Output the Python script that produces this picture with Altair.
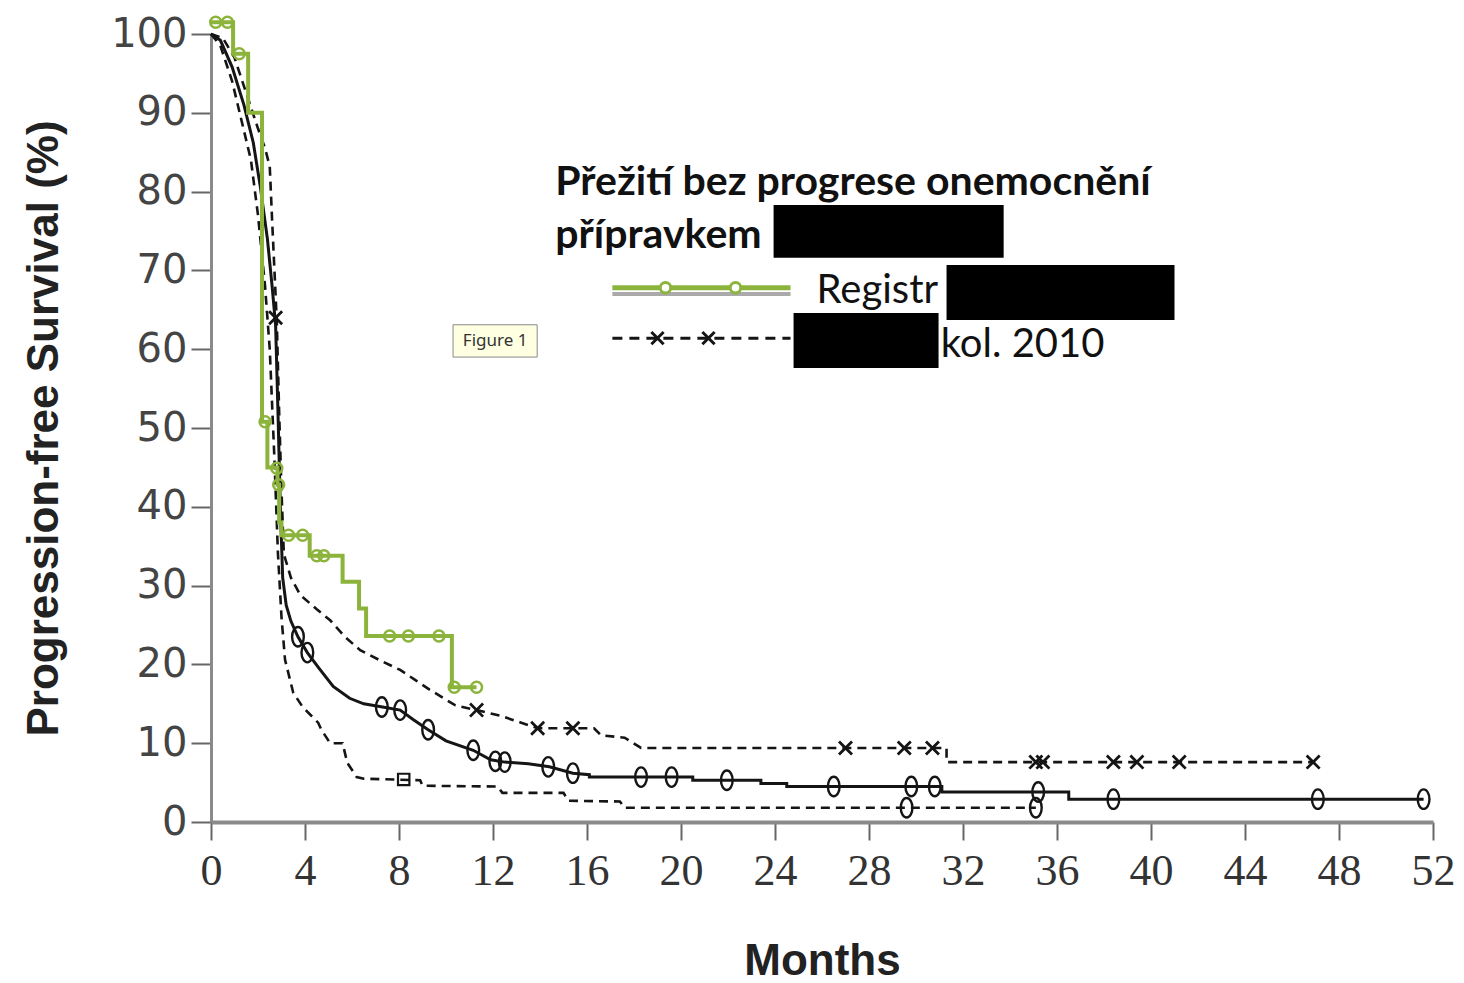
import altair as alt
import pandas as pd

# ---------------- data ----------------
# Registr (green) Kaplan-Meier step curve
green_t = [0, 0.94, 1.58, 2.17, 2.4, 2.83, 2.9, 3.0, 4.2, 5.6, 6.3, 6.6, 10.25, 11.3]
green_s = [101.5, 97.5, 90, 50.8, 45, 42.8, 38, 36.4, 33.8, 30.5, 27.1, 23.6, 17.1, 17.1]
green_cens_t = [0.2, 0.7, 1.2, 2.3, 2.8, 2.88, 3.3, 3.9, 4.5, 4.8, 7.6, 8.4, 9.7, 10.35, 11.3]
green_cens_s = [101.5, 101.5, 97.5, 50.8, 44.9, 42.8, 36.4, 36.4, 33.8, 33.8, 23.6, 23.6, 23.6, 17.1, 17.1]

# black solid curve
black_t = [0, 0.4, 0.9, 1.4, 1.8, 2.1, 2.4, 2.6, 2.75, 2.85, 2.95, 3.05, 3.2, 3.4, 3.7,
           4.1, 4.6, 5.2, 5.9, 6.5, 7.3, 8.05, 8.6, 9.24, 10.0, 11.16, 11.9, 12.5, 13.5,
           14.4, 15.4, 16.1, 16.1, 18.3, 20.5, 20.5, 23.4, 23.4, 24.5, 24.5, 31.1, 31.1,
           36.5, 36.5, 51.6]
black_s = [100, 99.2, 95.8, 91, 86.2, 80.6, 74, 68, 63, 52, 40, 31, 27.5, 25.5, 23.5,
           21.5, 19.5, 17.2, 15.7, 15.0, 14.6, 14.2, 13.0, 11.7, 10.3, 9.1, 7.9, 7.6, 7.4,
           7.0, 6.2, 6.0, 5.7, 5.7, 5.7, 5.3, 5.3, 4.9, 4.9, 4.5, 4.5, 3.8, 3.8,
           2.9, 2.9]
black_cens_t = [3.7, 4.1, 7.27, 8.05, 9.24, 11.16, 12.1, 12.5, 14.35, 15.4, 18.3, 19.6,
                21.95, 26.5, 29.8, 30.8, 35.2, 38.4, 47.1, 51.6]
black_cens_s = [23.5, 21.5, 14.6, 14.2, 11.7, 9.1, 7.7, 7.6, 7.0, 6.2, 5.7, 5.7,
                5.3, 4.5, 4.5, 4.5, 3.8, 2.9, 2.9, 2.9]

# upper dashed curve (x markers)
upper_t = [0, 0.5, 1.0, 1.5, 2.0, 2.3, 2.5, 2.6, 2.7, 2.8, 2.9, 3.0, 3.1, 3.4, 3.8, 4.5,
           5.07, 5.7, 6.35, 7.2, 8.05, 8.7, 9.3, 10.4, 11.3, 12.3, 13.2, 13.9, 16.3, 16.6,
           17.6, 18.3, 31.3, 31.3, 46.9]
upper_s = [100, 99.5, 97, 92.5, 88, 85.5, 83.2, 76.4, 70, 63.5, 52, 42, 34, 31, 28.8, 27,
           25.6, 23.5, 21.8, 20.5, 19.3, 18, 16.8, 14.8, 14.2, 13.5, 12.6, 11.9, 11.9, 11.0,
           10.7, 9.4, 9.4, 7.6, 7.6]
upper_mark_t = [2.75, 11.3, 13.9, 15.4, 27.0, 29.5, 30.7, 35.1, 35.4, 38.4, 39.4, 41.2, 46.9]
upper_mark_s = [64, 14.2, 11.9, 11.9, 9.4, 9.4, 9.4, 7.6, 7.6, 7.6, 7.6, 7.6, 7.6]

# lower dashed curve
lower_t = [0, 0.4, 0.9, 1.3, 1.7, 2.0, 2.3, 2.5, 2.7, 2.85, 3.0, 3.15, 3.5, 3.9, 4.56,
           4.7, 5.07, 5.6, 5.8, 6.2, 6.5, 8.9, 9.0, 12.2, 12.4, 15.0, 15.2, 17.4, 17.6, 35.1]
lower_s = [100, 98.5, 94, 89, 84, 77, 68, 60, 46, 34, 26, 20.6, 16.4, 14.6, 12.6,
           11.7, 10.0, 10.0, 7.5, 5.7, 5.5, 5.3, 4.6, 4.5, 3.7, 3.7, 2.7, 2.6, 1.8, 1.8]
lower_sq_t = [8.2]
lower_sq_s = [5.4]
lower_circ_t = [29.6, 35.1]
lower_circ_s = [1.8, 1.8]

x_ticks = list(range(0, 53, 4))
y_ticks = list(range(0, 101, 10))

# annotation texts
legend_title_1 = "Přežití bez progrese onemocnění"
legend_title_2 = "přípravkem"
legend_label_1 = "Registr"
legend_label_2 = "kol. 2010"
tooltip_label = "Figure 1"

# ---------------- helpers ----------------
GREEN = "#8CB43C"
INK = "#151515"
xs = alt.Scale(domain=[0, 52], nice=False, zero=False)
ys = alt.Scale(domain=[0, 100], nice=False, zero=False)

AX = alt.Axis(
    values=x_ticks, title="Months", grid=False, labelFlush=False,
    labelFont="Liberation Serif", labelFontSize=44, labelColor="#333",
    labelPadding=9, domainColor="#8a8a8a", domainWidth=4,
    tickColor="#666", tickWidth=2, tickSize=18,
    titleFont="Liberation Sans", titleFontSize=44, titleFontWeight="bold",
    titleColor="#222", titlePadding=46)
AY = alt.Axis(
    values=y_ticks, title="Progression-free Survival (%)", grid=False,
    labelFont="DejaVu Sans", labelFontSize=40, labelColor="#444",
    labelPadding=4, domainColor="#8a8a8a", domainWidth=3,
    tickColor="#666", tickWidth=2, tickSize=20,
    titleFont="Liberation Sans", titleFontSize=44, titleFontWeight="bold",
    titleColor="#222", titlePadding=44)


def X(field="t"):
    return alt.X(f"{field}:Q", scale=xs, axis=AX)


def Y(field="s"):
    return alt.Y(f"{field}:Q", scale=ys, axis=AY)


def df(t, s):
    return pd.DataFrame({"t": t, "s": s, "i": list(range(len(t)))})


ELLIPSE = "M0,-1A0.6,1,0,1,1,0,1A0.6,1,0,1,1,0,-1Z"
XMARK = "M-1,-1L1,1M-1,1L1,-1"

dash = [9, 6]

lower_line = alt.Chart(df(lower_t, lower_s)).mark_line(
    color=INK, strokeWidth=2.6, strokeDash=dash).encode(x=X(), y=Y(), order="i:Q")
upper_line = alt.Chart(df(upper_t, upper_s)).mark_line(
    color=INK, strokeWidth=2.6, strokeDash=dash).encode(x=X(), y=Y(), order="i:Q")
black_line = alt.Chart(df(black_t, black_s)).mark_line(
    color=INK, strokeWidth=3).encode(x=X(), y=Y(), order="i:Q")
green_line = alt.Chart(df(green_t, green_s)).mark_line(
    color=GREEN, strokeWidth=4, interpolate="step-after").encode(x=X(), y=Y(), order="i:Q")

black_cens = alt.Chart(df(black_cens_t, black_cens_s)).mark_point(
    shape=ELLIPSE, size=380, filled=False, color=INK, strokeWidth=2.4, opacity=1
).encode(x=X(), y=Y())
lower_circ = alt.Chart(df(lower_circ_t, lower_circ_s)).mark_point(
    shape=ELLIPSE, size=380, filled=False, color=INK, strokeWidth=2.4, opacity=1
).encode(x=X(), y=Y())
lower_sq = alt.Chart(df(lower_sq_t, lower_sq_s)).mark_point(
    shape="square", size=130, filled=False, color=INK, strokeWidth=2.2, opacity=1
).encode(x=X(), y=Y())
upper_marks = alt.Chart(df(upper_mark_t, upper_mark_s)).mark_point(
    shape=XMARK, size=170, filled=False, color=INK, strokeWidth=2.8, opacity=1
).encode(x=X(), y=Y())
green_cens = alt.Chart(df(green_cens_t, green_cens_s)).mark_point(
    shape="circle", size=120, filled=False, color=GREEN, strokeWidth=2.5, opacity=1
).encode(x=X(), y=Y())

# ---------------- legend / annotations (data coordinates) ----------------
title_df = pd.DataFrame({"x": [14.65, 14.65], "y": [79.6, 72.8],
                         "label": [legend_title_1, legend_title_2]})
title_txt = alt.Chart(title_df).mark_text(
    align="left", baseline="alphabetic", font="Lato", fontSize=41,
    fontWeight="bold", color="#111").encode(x=X("x"), y=Y("y"), text="label:N")

label_df = pd.DataFrame({"x": [25.77, 31.05], "y": [65.9, 59.0],
                         "label": [legend_label_1, legend_label_2]})
label_txt = alt.Chart(label_df).mark_text(
    align="left", baseline="alphabetic", font="Lato", fontSize=40,
    color="#111").encode(x=X("x"), y=Y("y"), text="label:N")

box_df = pd.DataFrame({"x": [23.94, 31.3, 24.79], "x2": [33.73, 41.0, 30.96],
                       "y": [78.3, 70.7, 64.6], "y2": [71.6, 63.7, 57.6]})
boxes = alt.Chart(box_df).mark_rect(color="black").encode(
    x=X("x"), x2="x2:Q", y=Y("y"), y2="y2:Q")

leg_line_df = pd.DataFrame({"x": [17.08], "x2": [24.66], "yg": [67.8], "ys": [67.0], "yd": [61.4]})
leg_shadow = alt.Chart(leg_line_df).mark_rule(color="#aaaaaa", strokeWidth=4).encode(
    x=X("x"), x2="x2:Q", y=Y("ys"))
leg_green = alt.Chart(leg_line_df).mark_rule(color=GREEN, strokeWidth=5).encode(
    x=X("x"), x2="x2:Q", y=Y("yg"))
leg_dash = alt.Chart(leg_line_df).mark_rule(color=INK, strokeWidth=3, strokeDash=[10, 7]).encode(
    x=X("x"), x2="x2:Q", y=Y("yd"))

leg_gc_df = pd.DataFrame({"t": [19.34, 22.32], "s": [67.8, 67.8]})
leg_gc = alt.Chart(leg_gc_df).mark_point(
    shape="circle", size=110, filled=True, fill="white", stroke=GREEN,
    strokeWidth=3, opacity=1).encode(x=X(), y=Y())
leg_x_df = pd.DataFrame({"t": [19.0, 21.17], "s": [61.4, 61.4]})
leg_x = alt.Chart(leg_x_df).mark_point(
    shape=XMARK, size=150, filled=False, color=INK, strokeWidth=3, opacity=1
).encode(x=X(), y=Y())

tip_df = pd.DataFrame({"x": [10.3], "x2": [13.88], "y": [63.1], "y2": [59.0],
                       "cx": [12.09], "cy": [61.05], "label": [tooltip_label]})
tip_shadow = alt.Chart(tip_df).mark_rect(color="#d0d0d0", xOffset=3, yOffset=3).encode(
    x=X("x"), x2="x2:Q", y=Y("y"), y2="y2:Q")
tip_box = alt.Chart(tip_df).mark_rect(fill="#FFFFE1", stroke="#8a8a8a", strokeWidth=1).encode(
    x=X("x"), x2="x2:Q", y=Y("y"), y2="y2:Q")
tip_txt = alt.Chart(tip_df).mark_text(
    font="Noto Sans", fontSize=17, color="#333", baseline="middle", align="center").encode(
    x=X("cx"), y=Y("cy"), text="label:N")

chart = alt.layer(
    lower_line, upper_line, black_line,
    lower_circ, lower_sq, black_cens, upper_marks,
    green_line, green_cens,
    title_txt, boxes, label_txt,
    leg_shadow, leg_green, leg_gc, leg_dash, leg_x,
    tip_shadow, tip_box, tip_txt,
).properties(
    width=1222, height=788,
    autosize=alt.AutoSizeParams(type="none"),
    padding={"left": 203, "top": 26, "right": 23, "bottom": 160},
    background="white",
).configure_view(stroke=None)

chart.save("out.html", embed_options={"renderer": "svg", "actions": False})
